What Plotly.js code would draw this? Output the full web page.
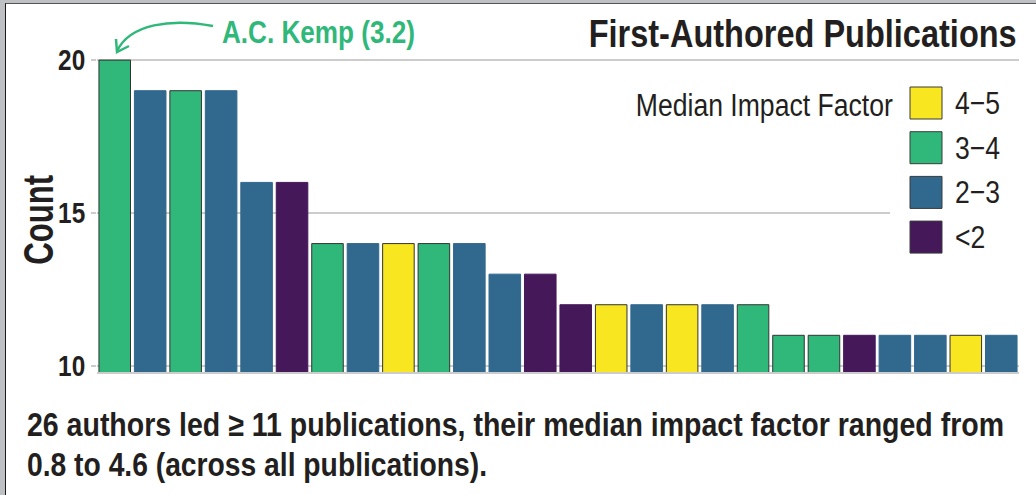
<!DOCTYPE html>
<html>
<head>
<meta charset="utf-8">
<script src="https://cdn.plot.ly/plotly-3.0.1.min.js"></script>
<style>
  html, body { margin: 0; padding: 0; background: #bfc0c4; width: 1036px; height: 495px; overflow: hidden; }
  #frame { position: absolute; left: 5px; top: 3px; width: 1030px; height: 491px;
           border-left: 1px solid #1a1a1a; border-top: 1px solid #555; background: #fff; }
  #chart { width: 1030px; height: 491px; }
</style>
</head>
<body>
<div id="frame"><div id="chart"></div></div>
<script>
// ---- data ----
const rank = [1,2,3,4,5,6,7,8,9,10,11,12,13,14,15,16,17,18,19,20,21,22,23,24,25,26];
const counts = [20,19,19,19,16,16,14,14,14,14,14,13,13,12,12,12,12,12,12,11,11,11,11,11,11,11];
const impactGroup = ['3-4','2-3','3-4','2-3','2-3','<2','3-4','2-3','4-5','3-4','2-3','2-3','<2',
                     '<2','4-5','2-3','4-5','2-3','3-4','3-4','3-4','<2','2-3','2-3','4-5','2-3'];
const groupKeys = ['4-5','3-4','2-3','<2'];
const groupLabels = ['4\u22125','3\u22124','2\u22123','<2'];
const yTicks = [10, 15, 20];
const highlightLabel = 'A.C. Kemp (3.2)';
const chartTitle = 'First-Authored Publications';
const legendTitle = 'Median Impact Factor';
const yTitle = 'Count';
const captionLines = ['26 authors led \u2265 11 publications, their median impact factor ranged from',
                      '0.8 to 4.6 (across all publications).'];

// ---- styles ----
const fill = {'4-5':'#F7E620','3-4':'#30B87A','2-3':'#31688E','<2':'#45185A'};
const edge = {'4-5':'#333333','3-4':'#333333','2-3':'#31688E','<2':'#45185A'};
const FONT = "'Liberation Sans', Arial, sans-serif";
const INK = '#231F20';
const GREEN = '#30B87A';
const NARROW = 0.83;   // condensed look

const L = 91, T = 50, W = 922, H = 318;
const px = x => (x - L) / W;
const py = y => 1 - (y - T) / H;

const trace = {
  type: 'bar',
  x: rank,
  y: counts,
  marker: {
    color: impactGroup.map(g => fill[g]),
    line: { color: impactGroup.map(g => edge[g]), width: 1 }
  },
  hoverinfo: 'x+y',
  showlegend: false
};

const shapes = [];
const annotations = [];
const fitWidth = {};   // text -> target rendered width in px
const vStretch = {};   // text -> vertical stretch factor (condensed, tall type)

// white patch behind legend keys (hides the gridline there)
shapes.push({type:'rect', xref:'paper', yref:'paper', x0:px(884), x1:px(1020), y0:py(262), y1:py(78),
             fillcolor:'#ffffff', line:{width:0}, layer:'above'});

// legend keys
groupKeys.forEach((g, i) => {
  const top = 83 + i * 44.7;
  shapes.push({type:'rect', xref:'paper', yref:'paper', x0:px(904), x1:px(936), y0:py(top+32), y1:py(top),
               fillcolor: fill[g], line:{color:'#3a3a3a', width:1}, layer:'above'});
  annotations.push({xref:'paper', yref:'paper', x:px(947), y:py(top+16), xanchor:'left', yanchor:'middle', align:'left',
                    text: groupLabels[i], showarrow:false, font:{family:FONT, size:32, color:INK}});
});
annotations.push({xref:'paper', yref:'paper', x:px(889), y:py(102), xanchor:'right', yanchor:'middle', align:'right',
                  text: legendTitle, showarrow:false, font:{family:FONT, size:31, color:INK}});
fitWidth[legendTitle] = 257;

// title
annotations.push({xref:'paper', yref:'paper', x:px(1013), y:py(30), xanchor:'right', yanchor:'middle', align:'right',
                  text: chartTitle, showarrow:false, font:{family:FONT, size:34, color:INK, weight:'bold'}});
fitWidth[chartTitle] = 428;
vStretch[chartTitle] = 38 / 34;

// y title
annotations.push({xref:'paper', yref:'paper', x:px(31.5), y:py(216), xanchor:'center', yanchor:'middle',
                  text: yTitle, textangle:-90, showarrow:false, font:{family:FONT, size:42, color:INK, weight:'bold'}});
fitWidth[yTitle] = 90;

// highlight label and curved arrow
annotations.push({xref:'paper', yref:'paper', x:px(214), y:py(28), xanchor:'left', yanchor:'middle', align:'left',
                  text: highlightLabel, showarrow:false, font:{family:FONT, size:32, color:GREEN, weight:'bold'}});
fitWidth[highlightLabel] = 193;
const P = (x, y) => px(x).toFixed(5) + ',' + py(y).toFixed(5);
shapes.push({type:'path', xref:'paper', yref:'paper', layer:'above',
             path:'M' + P(207,22) + ' C' + P(165,14) + ' ' + P(124,20) + ' ' + P(111,47),
             line:{color:GREEN, width:2.5}});
shapes.push({type:'path', xref:'paper', yref:'paper', layer:'above',
             path:'M' + P(110,35) + ' L' + P(111,48) + ' L' + P(123,42),
             line:{color:GREEN, width:2.5}});

// caption (two lines)
const capY = [421, 461], capW = [977, 460];
captionLines.forEach((line, i) => {
  annotations.push({xref:'paper', yref:'paper', x:px(19), y:py(capY[i]), xanchor:'left', yanchor:'middle', align:'left',
                    text: line, showarrow:false, font:{family:FONT, size:29, color:INK, weight:'bold'}});
  fitWidth[line] = capW[i];
  vStretch[line] = 33 / 29;
});

const layout = {
  width: 1030, height: 491,
  margin: {l:L, r:1030-L-W, t:T, b:491-T-H, pad:0},
  paper_bgcolor:'#ffffff', plot_bgcolor:'#ffffff',
  bargap: 0.11,
  font: {family: FONT, color: INK},
  xaxis: {range:[0.5, 26.5], showticklabels:false, ticks:'', showgrid:false, zeroline:false,
          showline:true, linecolor:'#cccccc', linewidth:2, fixedrange:true},
  yaxis: {range:[9.8, 20.2], tickvals: yTicks, ticks:'outside', ticklen:5, tickwidth:2, tickcolor:'#cccccc',
          showgrid:true, gridcolor:'#cccccc', gridwidth:2, zeroline:false, showline:false,
          tickfont:{family:FONT, size:29, color:INK, weight:'bold'}, fixedrange:true},
  shapes: shapes,
  annotations: annotations,
  showlegend: false
};

Plotly.newPlot('chart', [trace], layout, {displayModeBar:false, staticPlot:true}).then(gd => {
  // condense the text to mimic the narrow typeface of the reference
  gd.querySelectorAll('text.annotation-text').forEach(el => {
    const t = el.textContent;
    const w = el.getComputedTextLength();
    const target = fitWidth[t] !== undefined ? fitWidth[t] : w * NARROW;
    el.setAttribute('textLength', target);
    el.setAttribute('lengthAdjust', 'spacingAndGlyphs');
    const box = el.getBBox();
    const parent = el.parentNode;
    if (parent) {
      parent.querySelectorAll('rect.bg').forEach(r => {
        r.setAttribute('x', box.x);
        r.setAttribute('width', box.width);
      });
    }
    const k = vStretch[t];
    if (k) {
      const cy = box.y + box.height / 2;
      el.setAttribute('transform', 'translate(0 ' + cy + ') scale(1 ' + k + ') translate(0 ' + (-cy) + ')');
    }
  });
  gd.querySelectorAll('.ytick text').forEach(el => {
    el.setAttribute('textLength', el.getComputedTextLength() * 0.84);
    el.setAttribute('lengthAdjust', 'spacingAndGlyphs');
  });
});
</script>
</body>
</html>
